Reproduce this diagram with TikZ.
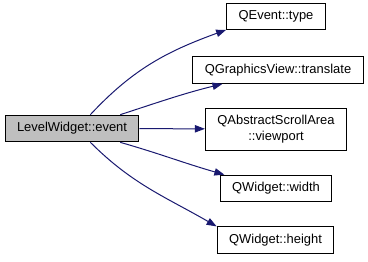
\documentclass[tikz,border=0pt]{standalone}
\usepackage{fontspec}
\setmainfont{Liberation Sans}
\usepackage{xcolor}
\usetikzlibrary{arrows.meta}

\definecolor{edgeblue}{RGB}{25,25,112}
\definecolor{callgray}{RGB}{191,191,191}

\begin{document}
\begin{tikzpicture}[x=0.75pt, y=-0.75pt,
func/.style={rectangle, draw, fill=white, line width=0.75pt, inner xsep=9pt, minimum height=20pt, font=\fontsize{9.7}{11.5}\selectfont, align=center},
arrow/.style={-{Triangle[length=7.5pt,width=5.5pt]}, edgeblue, line width=0.75pt}
]
\useasboundingbox (0,0) rectangle (368,261);

% Caller
\node[func, fill=callgray] (event) at (72,128.5) {LevelWidget::event};

% Callees
\node[func] (type) at (276,16.5) {QEvent::type};
\node[func] (translate) at (278,70) {QGraphicsView::translate};
\node[func, minimum height=31.5pt] (viewport) at (276,129) {QAbstractScrollArea\\::viewport};
\node[func] (width) at (276,188.5) {QWidget::width};
\node[func] (height) at (275.5,240) {QWidget::height};

% Calls
\draw[arrow] (event.37) to[out=47, in=200] (type.195);
\draw[arrow] (event.16) to[out=18, in=194] (translate.194);
\draw[arrow] (event) -- (viewport);
\draw[arrow] (event.-16) to[out=-16, in=164] (width.165);
\draw[arrow] (event.-37) to[out=-45, in=150] (height.167);

\end{tikzpicture}
\end{document}
